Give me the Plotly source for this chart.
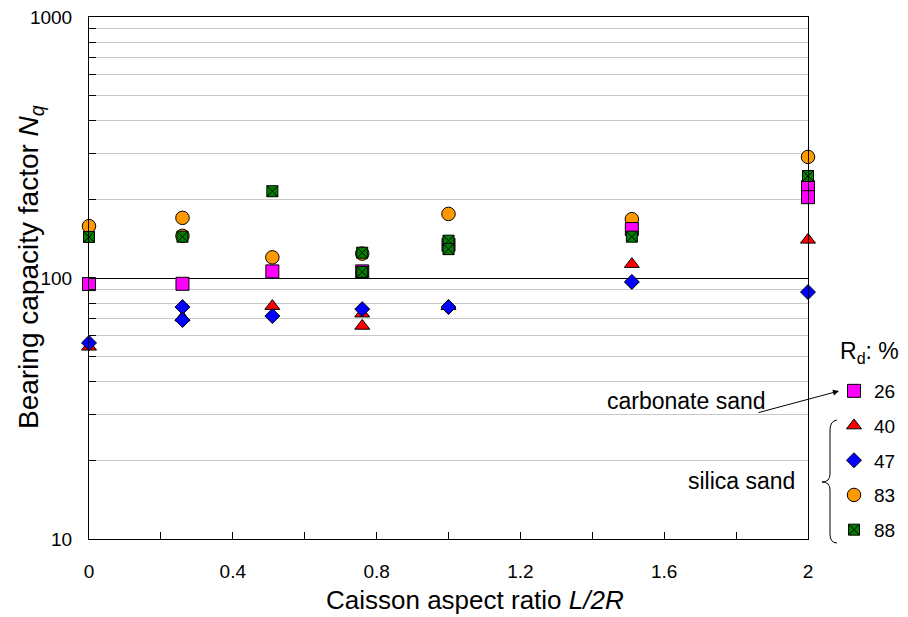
import plotly.graph_objects as go

# ---------------- data ----------------
x26 = [0, 0.26, 0.51, 0.76, 1.0, 1.51, 2.0, 2.0]
y26 = [94.8, 95, 106, 106, 134, 154, 223, 204]

x40 = [0, 0.26, 0.51, 0.76, 0.76, 1.0, 1.51, 2.0]
y40 = [54.5, 70.5, 78, 73, 65.5, 78, 113, 140]

x47 = [0, 0.26, 0.26, 0.51, 0.76, 1.0, 1.51, 2.0]
y47 = [56.4, 77.4, 69, 71.5, 76, 77.4, 96.6, 88.3]

x83 = [0, 0.26, 0.26, 0.51, 0.76, 1.0, 1.51, 2.0]
y83 = [158, 170, 145, 120, 124, 176, 168, 291]

x88 = [0, 0.26, 0.51, 0.76, 0.76, 1.0, 1.0, 1.51, 2.0]
y88 = [143.6, 144, 215, 125, 105.5, 139, 129, 144, 246]

x_ticks = [0, 0.4, 0.8, 1.2, 1.6, 2.0]
x_ticktext = ["0", "0.4", "0.8", "1.2", "1.6", "2"]
y_ticks = [10, 100, 1000]
y_ticktext = ["10", "100", "1000"]
y_minor = [20, 30, 40, 50, 60, 70, 80, 90, 200, 300, 400, 500, 600, 700, 800, 900]

FONT = "Liberation Sans, Arial, sans-serif"

# figure geometry (pixels)
W, H = 908, 617
ML, MR, MT, MB = 89, 100, 17, 78
PW, PH = W - ML - MR, H - MT - MB


def px(xp):
    return (xp - ML) / PW


def py(yp):
    return (H - MB - yp) / PH


fig = go.Figure()

series = [
    # name, x, y, symbol, colour, size, legend rank
    ("40", x40, y40, "triangle-up", "#FF0000", 13, 2),
    ("47", x47, y47, "diamond", "#0000FF", 11.5, 3),
    ("83", x83, y83, "circle", "#FF9900", 13.5, 4),
    ("26", x26, y26, "square", "#FF00FF", 13, 1),
    ("88", x88, y88, "square-x", "#007F00", 11, 5),
]

for name, xs, ys, sym, col, sz, rank in series:
    fig.add_trace(go.Scatter(
        x=xs, y=ys, mode="markers", name=name,
        legendgroup=name, legendrank=rank,
        marker=dict(symbol=sym, color=col, size=sz,
                    line=dict(color="#000000", width=1)),
        cliponaxis=False,
    ))

fig.update_layout(
    width=W, height=H,
    margin=dict(l=ML, r=MR, t=MT, b=MB, pad=0, autoexpand=False),
    paper_bgcolor="white", plot_bgcolor="white",
    font=dict(family=FONT, size=19, color="black"),
    showlegend=True,
    legend=dict(
        x=px(834), xanchor="left", y=py(372), yanchor="top",
        traceorder="grouped", tracegroupgap=7,
        font=dict(size=19),
        bgcolor="rgba(0,0,0,0)",
        itemwidth=30,
    ),
    xaxis=dict(
        range=[0, 2], tickvals=x_ticks, ticktext=x_ticktext,
        ticks="inside", ticklen=7, tickcolor="black", tickwidth=1,
        minor=dict(dtick=0.2, ticks="inside", ticklen=7, tickcolor="black"),
        showgrid=False, zeroline=False, automargin=False,
        showline=True, linecolor="black", linewidth=1, mirror=True,
        tickfont=dict(size=19), ticklabelstandoff=15,
    ),
    yaxis=dict(
        type="log", range=[1, 3], tickvals=y_ticks, ticktext=y_ticktext,
        ticks="inside", ticklen=7, tickcolor="black", tickwidth=1,
        showgrid=True, gridcolor="black", gridwidth=1,
        minor=dict(tickvals=y_minor, ticks="inside", ticklen=7,
                   tickcolor="black", showgrid=True, gridcolor="#C8C8C8",
                   gridwidth=1),
        zeroline=False, automargin=False,
        showline=True, linecolor="black", linewidth=1, mirror=True,
        tickfont=dict(size=19), ticklabelstandoff=12,
    ),
)

# axis titles (placed as in the reference)
fig.add_annotation(x=px(475), y=py(600), xref="paper", yref="paper",
                   text="Caisson aspect ratio <i>L/2R</i>", showarrow=False,
                   font=dict(size=26), xanchor="center", yanchor="middle")
fig.add_annotation(x=px(30), y=py(267), xref="paper", yref="paper",
                   text="Bearing capacity factor <i>N<sub>q</sub></i>",
                   showarrow=False, textangle=-90,
                   font=dict(size=28), xanchor="center", yanchor="middle")

# annotations: legend heading, labels, arrow and brace
fig.add_annotation(x=px(838), y=py(352), xref="paper", yref="paper",
                   text="R<sub>d</sub>: %", showarrow=False,
                   font=dict(size=23), xanchor="left", yanchor="middle")
fig.add_annotation(x=px(686), y=py(401), xref="paper", yref="paper",
                   text="carbonate sand", showarrow=False,
                   font=dict(size=23), xanchor="center", yanchor="middle")
fig.add_annotation(x=px(741), y=py(481), xref="paper", yref="paper",
                   text="silica sand", showarrow=False,
                   font=dict(size=23), xanchor="center", yanchor="middle")
fig.add_annotation(x=px(839), y=py(391), xref="paper", yref="paper",
                   text="", showarrow=True, arrowhead=2, arrowsize=1.2,
                   arrowwidth=1, arrowcolor="black",
                   ax=757 - 839, ay=413 - 391)

brace_pts = [
    ("M", 837, 420), ("Q", 830, 421), ("", 830, 430),
    ("L", 830, 474), ("Q", 830, 482), ("", 822, 482),
    ("Q", 830, 482), ("", 830, 490),
    ("L", 830, 534), ("Q", 830, 543), ("", 837, 543),
]
path = " ".join(f"{c} {px(a):.5f},{py(b):.5f}" if c else f"{px(a):.5f},{py(b):.5f}"
                for c, a, b in brace_pts)
fig.add_shape(type="path", xref="paper", yref="paper", path=path,
              line=dict(color="black", width=1))

fig.write_html("out.html")
